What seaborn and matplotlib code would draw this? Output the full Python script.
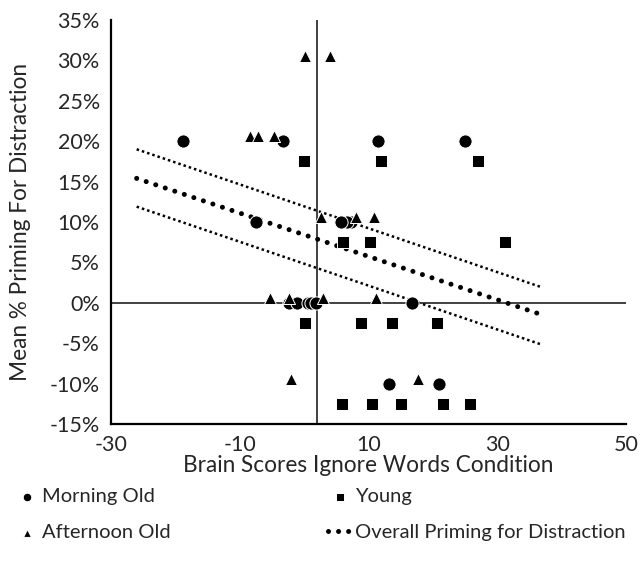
import pandas as pd
import matplotlib
matplotlib.use('Agg')
import matplotlib.pyplot as plt
import seaborn as sns
from matplotlib.ticker import PercentFormatter

# datos (x = brain score, y = % priming)
morning_x = [-18.8, -3.3, 11.4, 25.0, -7.4, 7.2, 6.7, 5.7,
             -2.35, -1.1, 0.6, 1.0, 1.85, 16.8, 13.1, 20.9]
morning_y = [20, 20, 20, 20, 10, 10, 10, 10,
             0, 0, 0, 0, 0, 0, -10, -10]

afternoon_x = [0.2, 4.0, -8.4, -7.1, -4.7, 2.6, 8.1, 10.8,
               -5.3, -2.3, 3.0, 11.2, -2.0, 17.7]
afternoon_y = [30.6, 30.6, 20.6, 20.6, 20.6, 10.6, 10.6, 10.6,
               0.6, 0.6, 0.6, 0.6, -9.4, -9.4]

young_x = [0.0, 11.9, 27.0, 6.1, 10.2, 31.1,
           0.2, 8.9, 13.7, 20.6, 5.9, 10.6, 15.0, 21.6, 25.8]
young_y = [17.5, 17.5, 17.5, 7.5, 7.5, 7.5,
           -2.5, -2.5, -2.5, -2.5, -12.5, -12.5, -12.5, -12.5, -12.5]

# linea de tendencia y sus bandas
trend_x = [-26.0, 36.6]
trend_y = [15.4, -1.4]
upper_y = [19.0, 2.0]
lower_y = [11.9, -5.1]

sns.set_style('white')
plt.rcParams['font.family'] = ['Lato', 'DejaVu Sans']
plt.rcParams['axes.unicode_minus'] = False

fig = plt.figure(figsize=(6.41, 5.71), dpi=100)
ax = fig.add_axes([0.173, 0.2574, 0.804, 0.7076])

# ejes cruzando en x=2 y y=0
ax.axhline(0, color='#404040', lw=1.4, zorder=1)
ax.axvline(2, color='#404040', lw=1.4, zorder=1)

sns.lineplot(x=trend_x, y=upper_y, ax=ax, color='black', lw=1.8,
             linestyle=(0, (1, 1.2)), zorder=2)
sns.lineplot(x=trend_x, y=lower_y, ax=ax, color='black', lw=1.8,
             linestyle=(0, (1, 1.2)), zorder=2)
sns.lineplot(x=trend_x, y=trend_y, ax=ax, color='black', lw=3.6,
             linestyle=(0, (0.01, 2)), dash_capstyle='round', zorder=2,
             label='Overall Priming for Distraction')

sns.scatterplot(x=young_x, y=young_y, ax=ax, marker='s', s=80, color='black',
                edgecolor='white', linewidth=0.7, zorder=3, label='Young')
sns.scatterplot(x=morning_x, y=morning_y, ax=ax, marker='o', s=90, color='black',
                edgecolor='white', linewidth=0.7, zorder=3, label='Morning Old')
sns.scatterplot(x=afternoon_x, y=afternoon_y, ax=ax, marker='^', s=75, color='black',
                edgecolor='white', linewidth=0.7, zorder=4, label='Afternoon Old')

ax.set_xlim(-30, 50)
ax.set_ylim(-15, 35)
ax.set_xticks([-30, -10, 10, 30, 50])
ax.set_yticks(range(-15, 36, 5))
ax.yaxis.set_major_formatter(PercentFormatter(decimals=0))
ax.tick_params(length=0, labelsize=15.5, pad=8)

sns.despine(ax=ax)
for s in ['left', 'bottom']:
    ax.spines[s].set_color('black')
    ax.spines[s].set_linewidth(1.6)

ax.set_xlabel('Brain Scores Ignore Words Condition', fontsize=16.3, labelpad=0)
ax.set_ylabel('Mean % Priming For Distraction', fontsize=16.3, labelpad=13)

h, l = ax.get_legend_handles_labels()
orden = ['Morning Old', 'Afternoon Old', 'Young', 'Overall Priming for Distraction']
hh = [h[l.index(n)] for n in orden]
ax.get_legend().remove()
leg = fig.legend(hh, orden, loc='lower left', bbox_to_anchor=(-0.005, 0.02), ncol=2,
                 frameon=False, fontsize=14.5, handlelength=1.2, handletextpad=0.15,
                 columnspacing=7.8, labelspacing=0.97, markerscale=0.65)

plt.savefig('out.png', dpi=100)
